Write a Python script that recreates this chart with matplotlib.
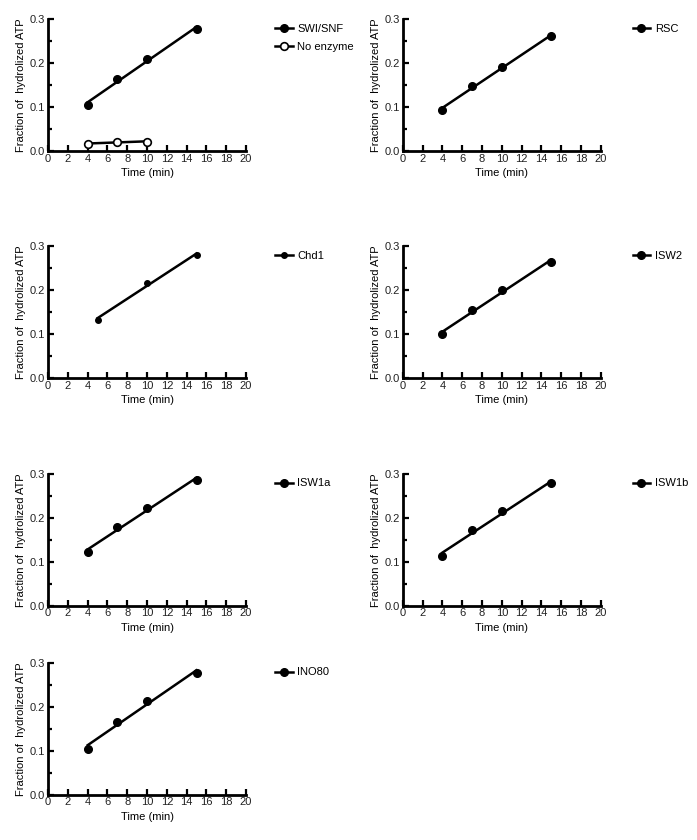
import numpy as np
import matplotlib
matplotlib.use("Agg")
import matplotlib.pyplot as plt
from matplotlib.ticker import MultipleLocator, FormatStrFormatter

plt.rcParams['font.family'] = ['Liberation Sans', 'DejaVu Sans']

# data
NAMES = ['SWI/SNF', 'RSC', 'Chd1', 'ISW2', 'ISW1a', 'ISW1b', 'INO80']
TIMES = {
    'SWI/SNF': [4, 7, 10, 15],
    'RSC': [4, 7, 10, 15],
    'Chd1': [5, 10, 15],
    'ISW2': [4, 7, 10, 15],
    'ISW1a': [4, 7, 10, 15],
    'ISW1b': [4, 7, 10, 15],
    'INO80': [4, 7, 10, 15],
}
swisnf = [0.104, 0.165, 0.210, 0.278]
rsc = [0.094, 0.149, 0.191, 0.262]
chd1 = [0.133, 0.216, 0.280]
isw2 = [0.100, 0.154, 0.200, 0.265]
isw1a = [0.121, 0.178, 0.223, 0.286]
isw1b = [0.113, 0.172, 0.215, 0.278]
ino80 = [0.104, 0.166, 0.213, 0.277]
VALUES = [swisnf, rsc, chd1, isw2, isw1a, isw1b, ino80]

no_enzyme_t = [4, 7, 10]
no_enzyme = [0.017, 0.021, 0.022]

# axes positions [left, bottom, width, height] in figure fraction
COLS = [0.069, 0.578]
ROWS = [0.820, 0.550, 0.279, 0.054]
W, H = 0.284, 0.157


def fit_line(ax, t, v):
    t = np.array(t, dtype=float)
    v = np.array(v, dtype=float)
    k, b = np.polyfit(t, v, 1)
    xs = np.array([t.min(), t.max()])
    ax.plot(xs, k * xs + b, color='black', lw=1.8, zorder=2)


def style(ax):
    ax.set_xlim(0, 20)
    ax.set_ylim(0, 0.3)
    for s in ['top', 'right']:
        ax.spines[s].set_visible(False)
    for s in ['left', 'bottom']:
        ax.spines[s].set_linewidth(2)
    ax.xaxis.set_major_locator(MultipleLocator(2))
    ax.yaxis.set_major_locator(MultipleLocator(0.1))
    ax.yaxis.set_minor_locator(MultipleLocator(0.05))
    ax.yaxis.set_major_formatter(FormatStrFormatter('%.1f'))
    ax.tick_params(which='major', direction='in', length=4, width=1.6,
                   labelsize=8, pad=2, labelcolor='#222222')
    ax.tick_params(which='minor', direction='in', length=3, width=1.6)
    ax.set_xlabel('Time (min)', fontsize=8, labelpad=3)
    ax.set_ylabel('Fraction of  hydrolized ATP', fontsize=8, labelpad=3)


fig = plt.figure(figsize=(6.97, 8.4), dpi=100)

for i, name in enumerate(NAMES):
    col = i % 2
    row = i // 2
    ax = fig.add_axes([COLS[col], ROWS[row], W, H])
    ms = 4 if name == 'Chd1' else 5.5
    t = TIMES[name]
    v = VALUES[i]
    fit_line(ax, t, v)
    ax.plot(t, v, 'o', color='black', ms=ms, zorder=3, clip_on=False)
    handles = [ax.plot([], [], '-o', color='black', ms=ms, lw=1.8)[0]]
    labels = [name]
    if name == 'SWI/SNF':
        fit_line(ax, no_enzyme_t, no_enzyme)
        ax.plot(no_enzyme_t, no_enzyme, 'o', mfc='white', mec='black',
                mew=1.2, ms=5.5, zorder=3)
        handles.append(ax.plot([], [], '-o', color='black', mfc='white',
                               mew=1.2, ms=5.5, lw=1.8)[0])
        labels.append('No enzyme')
    style(ax)
    bx = 1.095 if col == 0 else 1.11
    ax.legend(handles, labels, loc='upper left', bbox_to_anchor=(bx, 1.04),
              frameon=False, fontsize=8, handlelength=1.6, handletextpad=0.4,
              labelspacing=0.7)

fig.savefig('out.png', dpi=100)
